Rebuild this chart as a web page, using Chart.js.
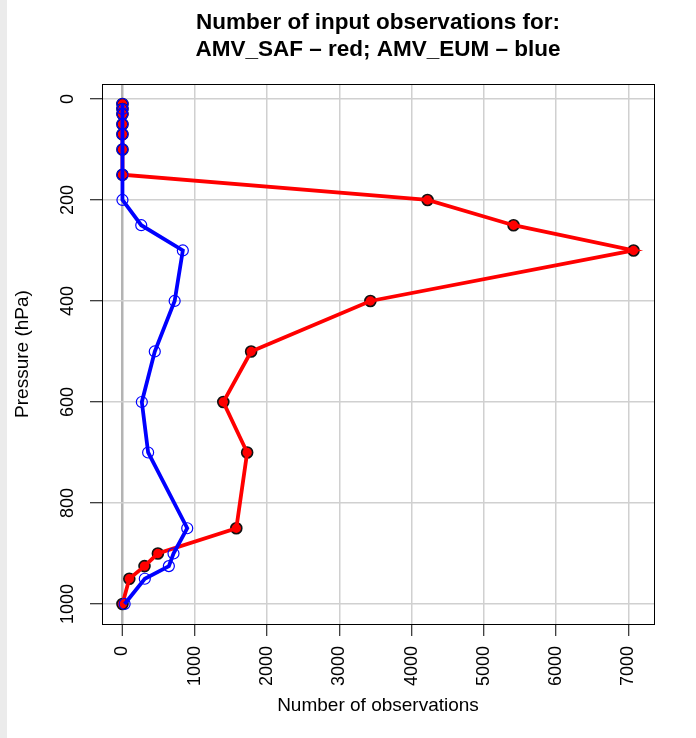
<!DOCTYPE html>
<html>
<head>
<meta charset="utf-8">
<script src="https://cdn.jsdelivr.net/npm/chart.js@4/dist/chart.umd.min.js"></script>
<style>
    body { margin: 0; background: linear-gradient(to right, #ebebeb 7px, #ffffff 7px); }
    #wrap { width: 696px; height: 738px; }
</style>
</head>
<body>
<div id="wrap"><canvas id="obsChart"></canvas></div>
<script>
// pressure levels (hPa)
const levels = [10, 20, 30, 50, 70, 100, 150, 200, 250, 300, 400, 500, 600, 700, 850, 900, 925, 950, 1000];
// AMV_SAF (red)
const safCounts = [0, 0, 0, 0, 0, 0, 0, 4220, 5410, 7070, 3430, 1780, 1395, 1725, 1575, 490, 305, 95, 0];
// AMV_EUM (blue)
const eumCounts = [0, 0, 0, 0, 0, 0, 0, 0, 260, 835, 722, 447, 268, 355, 896, 706, 642, 309, 30];

const xTicks = [0, 1000, 2000, 3000, 4000, 5000, 6000, 7000];
const yTicks = [0, 200, 400, 600, 800, 1000];

const fontFamily = "'Liberation Sans', Arial, Helvetica, sans-serif";

function toPoints(counts) {
    return counts.map((c, i) => ({ x: c, y: levels[i] }));
}

// draws the closed frame around the plot like R's box()
const boxPlugin = {
    id: "box",
    afterDraw(chart) {
        const { ctx, chartArea } = chart;
        ctx.save();
        ctx.strokeStyle = "#000";
        ctx.lineWidth = 1;
        ctx.strokeRect(chartArea.left + 0.5, chartArea.top + 0.5,
            chartArea.right - chartArea.left, chartArea.bottom - chartArea.top);
        ctx.restore();
    }
};

const ctx = document.getElementById("obsChart").getContext("2d");

// lower order is drawn on top: red points, red line, blue line, blue circles
new Chart(ctx, {
    type: "scatter",
    data: {
        datasets: [
            {
                label: "AMV_SAF points",
                data: toPoints(safCounts),
                showLine: false,
                pointRadius: 5.5,
                pointBackgroundColor: "#ff0000",
                pointBorderColor: "#111",
                pointBorderWidth: 1.6,
                order: 4
            },
            {
                label: "AMV_SAF",
                data: toPoints(safCounts),
                showLine: true,
                borderColor: "#ff0000",
                borderWidth: 3.8,
                pointRadius: 0,
                order: 3
            },
            {
                label: "AMV_EUM",
                data: toPoints(eumCounts),
                showLine: true,
                borderColor: "#0000ff",
                borderWidth: 3.8,
                pointRadius: 0,
                order: 2
            },
            {
                label: "AMV_EUM points",
                data: toPoints(eumCounts),
                showLine: false,
                pointRadius: 5.5,
                pointBackgroundColor: "rgba(0,0,0,0)",
                pointBorderColor: "#0000ff",
                pointBorderWidth: 1.2,
                order: 1
            }
        ]
    },
    options: {
        responsive: true,
        maintainAspectRatio: false,
        animation: false,
        layout: { padding: { left: 0, right: 42, top: 0, bottom: 0 } },
        plugins: {
            legend: { display: false },
            tooltip: { enabled: false },
            title: {
                display: true,
                fullSize: false,
                text: ["Number of input observations for:", "AMV_SAF \u2013 red; AMV_EUM \u2013 blue"],
                color: "#000",
                font: { family: fontFamily, size: 22.5, weight: "bold", lineHeight: 1.2 },
                padding: { top: 9.5, bottom: 20.5 }
            }
        },
        scales: {
            x: {
                type: "linear",
                min: -283,
                max: 7353,
                afterBuildTicks: (scale) => { scale.ticks = xTicks.map(v => ({ value: v })); },
                afterFit: (scale) => { scale.height = 114; },
                border: { display: false },
                grid: {
                    color: (c) => c.tick && c.tick.value === 0 ? "#b4b4b4" : "#d0d0d0",
                    lineWidth: (c) => c.tick && c.tick.value === 0 ? 2.5 : 1.5,
                    tickColor: "#000",
                    tickWidth: 1,
                    tickLength: 12
                },
                ticks: {
                    minRotation: 90,
                    maxRotation: 90,
                    padding: 10,
                    color: "#000",
                    font: { family: fontFamily, size: 18 },
                    callback: (v) => String(v)
                },
                title: {
                    display: true,
                    text: "Number of observations",
                    color: "#000",
                    font: { family: fontFamily, size: 19 },
                    padding: { top: 0, bottom: 20.6 }
                }
            },
            y: {
                type: "linear",
                reverse: true,
                min: -29.6,
                max: 1039.6,
                afterBuildTicks: (scale) => { scale.ticks = yTicks.map(v => ({ value: v })); },
                afterFit: (scale) => { scale.width = 102; },
                border: { display: false },
                grid: {
                    color: "#d0d0d0",
                    lineWidth: 1.5,
                    tickColor: "#000",
                    tickWidth: 1,
                    tickLength: 12
                },
                ticks: {
                    minRotation: 90,
                    maxRotation: 90,
                    crossAlign: "center",
                    padding: 2,
                    color: "#000",
                    font: { family: fontFamily, size: 18 },
                    callback: (v) => String(v)
                },
                title: {
                    display: true,
                    text: "Pressure (hPa)",
                    color: "#000",
                    font: { family: fontFamily, size: 19 },
                    padding: { top: 11.6, bottom: 0 }
                }
            }
        }
    },
    plugins: [boxPlugin]
});
</script>
</body>
</html>
